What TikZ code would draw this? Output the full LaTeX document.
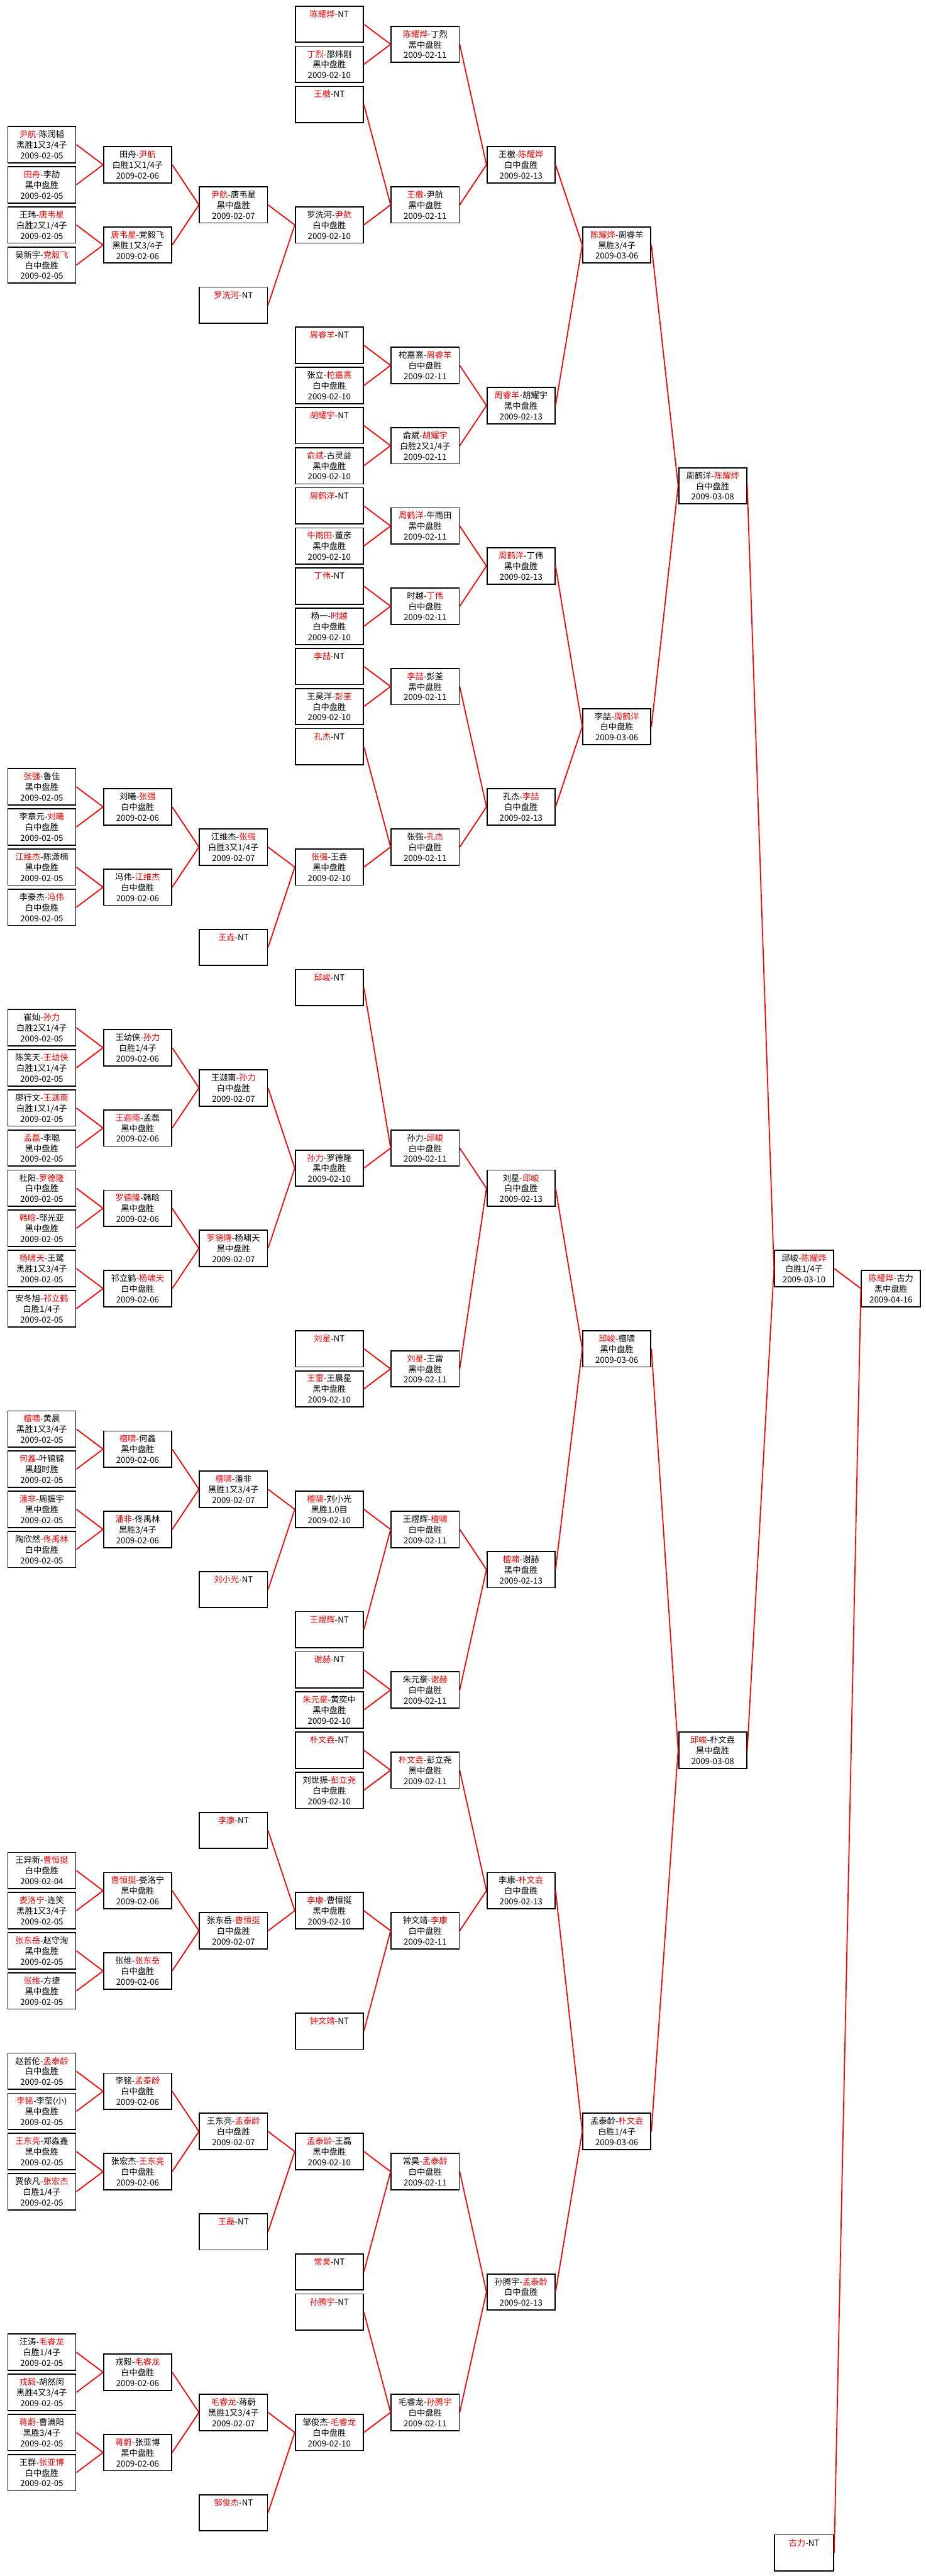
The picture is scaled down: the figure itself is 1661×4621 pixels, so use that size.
\documentclass[tikz,border=0pt]{standalone}
\usepackage{fontspec}
\newfontfamily\cjk{Noto Sans CJK SC}
\definecolor{winred}{RGB}{235,0,0}
\newcommand{\wn}[1]{\textcolor{winred}{#1}}
\begin{document}
\begin{tikzpicture}[x=1pt,y=-72pt,
  game/.style={draw,line width=2pt,anchor=north west,minimum width=122pt,minimum height=65pt,
    inner sep=0pt,align=center,font=\cjk\fontsize{15}{19}\selectfont},
  final/.style={game,minimum width=106pt},
  wire/.style={red,line width=2pt}]
\useasboundingbox (0pt,10pt) rectangle (1661pt,-4611pt);

% round 1
\node[game] (a3) at (13,3) {\wn{尹航}-陈润韬\\黑胜1又3/4子\\2009-02-05};
\node[game] (a4) at (13,4) {\wn{田舟}-李劼\\黑中盘胜\\2009-02-05};
\node[game] (a5) at (13,5) {王玮-\wn{唐韦星}\\白胜2又1/4子\\2009-02-05};
\node[game] (a6) at (13,6) {吴新宇-\wn{党毅飞}\\白中盘胜\\2009-02-05};
\node[game] (a19) at (13,19) {\wn{张强}-鲁佳\\黑中盘胜\\2009-02-05};
\node[game] (a20) at (13,20) {李章元-\wn{刘曦}\\白中盘胜\\2009-02-05};
\node[game] (a21) at (13,21) {\wn{江维杰}-陈潇楠\\黑中盘胜\\2009-02-05};
\node[game] (a22) at (13,22) {李豪杰-\wn{冯伟}\\白中盘胜\\2009-02-05};
\node[game] (a25) at (13,25) {崔灿-\wn{孙力}\\白胜2又1/4子\\2009-02-05};
\node[game] (a26) at (13,26) {陈笑天-\wn{王幼侠}\\白胜1又1/4子\\2009-02-05};
\node[game] (a27) at (13,27) {廖行文-\wn{王迦南}\\白胜1又1/4子\\2009-02-05};
\node[game] (a28) at (13,28) {\wn{孟磊}-李聪\\黑中盘胜\\2009-02-05};
\node[game] (a29) at (13,29) {杜阳-\wn{罗德隆}\\白中盘胜\\2009-02-05};
\node[game] (a30) at (13,30) {\wn{韩晗}-邬光亚\\黑中盘胜\\2009-02-05};
\node[game] (a31) at (13,31) {\wn{杨啸天}-王鹭\\黑胜1又3/4子\\2009-02-05};
\node[game] (a32) at (13,32) {安冬旭-\wn{祁立鹤}\\白胜1/4子\\2009-02-05};
\node[game] (a35) at (13,35) {\wn{檀啸}-黄晨\\黑胜1又3/4子\\2009-02-05};
\node[game] (a36) at (13,36) {\wn{何鑫}-叶锦锦\\黑超时胜\\2009-02-05};
\node[game] (a37) at (13,37) {\wn{潘非}-周振宇\\黑中盘胜\\2009-02-05};
\node[game] (a38) at (13,38) {陶欣然-\wn{佟禹林}\\白中盘胜\\2009-02-05};
\node[game] (a46) at (13,46) {王异新-\wn{曹恒挺}\\白中盘胜\\2009-02-04};
\node[game] (a47) at (13,47) {\wn{娄洛宁}-连笑\\黑胜1又3/4子\\2009-02-05};
\node[game] (a48) at (13,48) {\wn{张东岳}-赵守洵\\黑中盘胜\\2009-02-05};
\node[game] (a49) at (13,49) {\wn{张维}-方捷\\黑中盘胜\\2009-02-05};
\node[game] (a51) at (13,51) {赵哲伦-\wn{孟泰龄}\\白中盘胜\\2009-02-05};
\node[game] (a52) at (13,52) {\wn{李铭}-李莹(小)\\黑中盘胜\\2009-02-05};
\node[game] (a53) at (13,53) {\wn{王东亮}-郑淼鑫\\黑中盘胜\\2009-02-05};
\node[game] (a54) at (13,54) {贾依凡-\wn{张宏杰}\\白胜1/4子\\2009-02-05};
\node[game] (a58) at (13,58) {汪涛-\wn{毛睿龙}\\白胜1/4子\\2009-02-05};
\node[game] (a59) at (13,59) {\wn{戎毅}-胡然闵\\黑胜4又3/4子\\2009-02-05};
\node[game] (a60) at (13,60) {\wn{蒋蔚}-曹满阳\\黑胜3/4子\\2009-02-05};
\node[game] (a61) at (13,61) {王群-\wn{张亚博}\\白中盘胜\\2009-02-05};

% round 2
\node[game] (b3h) at (185,3.5) {田舟-\wn{尹航}\\白胜1又1/4子\\2009-02-06};
\node[game] (b5h) at (185,5.5) {\wn{唐韦星}-党毅飞\\黑胜1又3/4子\\2009-02-06};
\node[game] (b19h) at (185,19.5) {刘曦-\wn{张强}\\白中盘胜\\2009-02-06};
\node[game] (b21h) at (185,21.5) {冯伟-\wn{江维杰}\\白中盘胜\\2009-02-06};
\node[game] (b25h) at (185,25.5) {王幼侠-\wn{孙力}\\白胜1/4子\\2009-02-06};
\node[game] (b27h) at (185,27.5) {\wn{王迦南}-孟磊\\黑中盘胜\\2009-02-06};
\node[game] (b29h) at (185,29.5) {\wn{罗德隆}-韩晗\\黑中盘胜\\2009-02-06};
\node[game] (b31h) at (185,31.5) {祁立鹤-\wn{杨啸天}\\白中盘胜\\2009-02-06};
\node[game] (b35h) at (185,35.5) {\wn{檀啸}-何鑫\\黑中盘胜\\2009-02-06};
\node[game] (b37h) at (185,37.5) {\wn{潘非}-佟禹林\\黑胜3/4子\\2009-02-06};
\node[game] (b46h) at (185,46.5) {\wn{曹恒挺}-娄洛宁\\黑中盘胜\\2009-02-06};
\node[game] (b48h) at (185,48.5) {张维-\wn{张东岳}\\白中盘胜\\2009-02-06};
\node[game] (b51h) at (185,51.5) {李铭-\wn{孟泰龄}\\白中盘胜\\2009-02-06};
\node[game] (b53h) at (185,53.5) {张宏杰-\wn{王东亮}\\白中盘胜\\2009-02-06};
\node[game] (b58h) at (185,58.5) {戎毅-\wn{毛睿龙}\\白中盘胜\\2009-02-06};
\node[game] (b60h) at (185,60.5) {\wn{蒋蔚}-张亚博\\黑中盘胜\\2009-02-06};

% round 3
\node[game] (c4h) at (357,4.5) {\wn{尹航}-唐韦星\\黑中盘胜\\2009-02-07};
\node[game] (c7) at (357,7) {\wn{罗洗河}-NT\\~\\~};
\node[game] (c20h) at (357,20.5) {江维杰-\wn{张强}\\白胜3又1/4子\\2009-02-07};
\node[game] (c23) at (357,23) {\wn{王垚}-NT\\~\\~};
\node[game] (c26h) at (357,26.5) {王迦南-\wn{孙力}\\白中盘胜\\2009-02-07};
\node[game] (c30h) at (357,30.5) {\wn{罗德隆}-杨啸天\\黑中盘胜\\2009-02-07};
\node[game] (c36h) at (357,36.5) {\wn{檀啸}-潘非\\黑胜1又3/4子\\2009-02-07};
\node[game] (c39) at (357,39) {\wn{刘小光}-NT\\~\\~};
\node[game] (c45) at (357,45) {\wn{李康}-NT\\~\\~};
\node[game] (c47h) at (357,47.5) {张东岳-\wn{曹恒挺}\\白中盘胜\\2009-02-07};
\node[game] (c52h) at (357,52.5) {王东亮-\wn{孟泰龄}\\白中盘胜\\2009-02-07};
\node[game] (c55) at (357,55) {\wn{王磊}-NT\\~\\~};
\node[game] (c59h) at (357,59.5) {\wn{毛睿龙}-蒋蔚\\黑胜1又3/4子\\2009-02-07};
\node[game] (c62) at (357,62) {\wn{邹俊杰}-NT\\~\\~};

% round 4
\node[game] (d0) at (529,0) {\wn{陈耀烨}-NT\\~\\~};
\node[game] (d1) at (529,1) {\wn{丁烈}-邵炜刚\\黑中盘胜\\2009-02-10};
\node[game] (d2) at (529,2) {\wn{王檄}-NT\\~\\~};
\node[game] (d5) at (529,5) {罗洗河-\wn{尹航}\\白中盘胜\\2009-02-10};
\node[game] (d8) at (529,8) {\wn{周睿羊}-NT\\~\\~};
\node[game] (d9) at (529,9) {张立-\wn{柁嘉熹}\\白中盘胜\\2009-02-10};
\node[game] (d10) at (529,10) {\wn{胡耀宇}-NT\\~\\~};
\node[game] (d11) at (529,11) {\wn{俞斌}-古灵益\\黑中盘胜\\2009-02-10};
\node[game] (d12) at (529,12) {\wn{周鹤洋}-NT\\~\\~};
\node[game] (d13) at (529,13) {\wn{牛雨田}-董彦\\黑中盘胜\\2009-02-10};
\node[game] (d14) at (529,14) {\wn{丁伟}-NT\\~\\~};
\node[game] (d15) at (529,15) {杨一-\wn{时越}\\白中盘胜\\2009-02-10};
\node[game] (d16) at (529,16) {\wn{李喆}-NT\\~\\~};
\node[game] (d17) at (529,17) {王昊洋-\wn{彭荃}\\白中盘胜\\2009-02-10};
\node[game] (d18) at (529,18) {\wn{孔杰}-NT\\~\\~};
\node[game] (d21) at (529,21) {\wn{张强}-王垚\\黑中盘胜\\2009-02-10};
\node[game] (d24) at (529,24) {\wn{邱峻}-NT\\~\\~};
\node[game] (d28h) at (529,28.5) {\wn{孙力}-罗德隆\\黑中盘胜\\2009-02-10};
\node[game] (d33) at (529,33) {\wn{刘星}-NT\\~\\~};
\node[game] (d34) at (529,34) {\wn{王雷}-王晨星\\黑中盘胜\\2009-02-10};
\node[game] (d37) at (529,37) {\wn{檀啸}-刘小光\\黑胜1.0目\\2009-02-10};
\node[game] (d40) at (529,40) {\wn{王煜辉}-NT\\~\\~};
\node[game] (d41) at (529,41) {\wn{谢赫}-NT\\~\\~};
\node[game] (d42) at (529,42) {\wn{朱元豪}-黄奕中\\黑中盘胜\\2009-02-10};
\node[game] (d43) at (529,43) {\wn{朴文垚}-NT\\~\\~};
\node[game] (d44) at (529,44) {刘世振-\wn{彭立尧}\\白中盘胜\\2009-02-10};
\node[game] (d47) at (529,47) {\wn{李康}-曹恒挺\\黑中盘胜\\2009-02-10};
\node[game] (d50) at (529,50) {\wn{钟文靖}-NT\\~\\~};
\node[game] (d53) at (529,53) {\wn{孟泰龄}-王磊\\黑中盘胜\\2009-02-10};
\node[game] (d56) at (529,56) {\wn{常昊}-NT\\~\\~};
\node[game] (d57) at (529,57) {\wn{孙腾宇}-NT\\~\\~};
\node[game] (d60) at (529,60) {邹俊杰-\wn{毛睿龙}\\白中盘胜\\2009-02-10};

% round 5
\node[game] (e0h) at (701,0.5) {\wn{陈耀烨}-丁烈\\黑中盘胜\\2009-02-11};
\node[game] (e4h) at (701,4.5) {\wn{王檄}-尹航\\黑中盘胜\\2009-02-11};
\node[game] (e8h) at (701,8.5) {柁嘉熹-\wn{周睿羊}\\白中盘胜\\2009-02-11};
\node[game] (e10h) at (701,10.5) {俞斌-\wn{胡耀宇}\\白胜2又1/4子\\2009-02-11};
\node[game] (e12h) at (701,12.5) {\wn{周鹤洋}-牛雨田\\黑中盘胜\\2009-02-11};
\node[game] (e14h) at (701,14.5) {时越-\wn{丁伟}\\白中盘胜\\2009-02-11};
\node[game] (e16h) at (701,16.5) {\wn{李喆}-彭荃\\黑中盘胜\\2009-02-11};
\node[game] (e20h) at (701,20.5) {张强-\wn{孔杰}\\白中盘胜\\2009-02-11};
\node[game] (e28) at (701,28) {孙力-\wn{邱峻}\\白中盘胜\\2009-02-11};
\node[game] (e33h) at (701,33.5) {\wn{刘星}-王雷\\黑中盘胜\\2009-02-11};
\node[game] (e37h) at (701,37.5) {王煜辉-\wn{檀啸}\\白中盘胜\\2009-02-11};
\node[game] (e41h) at (701,41.5) {朱元豪-\wn{谢赫}\\白中盘胜\\2009-02-11};
\node[game] (e43h) at (701,43.5) {\wn{朴文垚}-彭立尧\\黑中盘胜\\2009-02-11};
\node[game] (e47h) at (701,47.5) {钟文靖-\wn{李康}\\白中盘胜\\2009-02-11};
\node[game] (e53h) at (701,53.5) {常昊-\wn{孟泰龄}\\白中盘胜\\2009-02-11};
\node[game] (e59h) at (701,59.5) {毛睿龙-\wn{孙腾宇}\\白中盘胜\\2009-02-11};

% round 6
\node[game] (f3h) at (873,3.5) {王檄-\wn{陈耀烨}\\白中盘胜\\2009-02-13};
\node[game] (f9h) at (873,9.5) {\wn{周睿羊}-胡耀宇\\黑中盘胜\\2009-02-13};
\node[game] (f13h) at (873,13.5) {\wn{周鹤洋}-丁伟\\黑中盘胜\\2009-02-13};
\node[game] (f19h) at (873,19.5) {孔杰-\wn{李喆}\\白中盘胜\\2009-02-13};
\node[game] (f29) at (873,29) {刘星-\wn{邱峻}\\白中盘胜\\2009-02-13};
\node[game] (f38h) at (873,38.5) {\wn{檀啸}-谢赫\\黑中盘胜\\2009-02-13};
\node[game] (f46h) at (873,46.5) {李康-\wn{朴文垚}\\白中盘胜\\2009-02-13};
\node[game] (f56h) at (873,56.5) {孙腾宇-\wn{孟泰龄}\\白中盘胜\\2009-02-13};

% rounds 7 and 8
\node[game] (g5h) at (1045,5.5) {\wn{陈耀烨}-周睿羊\\黑胜3/4子\\2009-03-06};
\node[game] (g17h) at (1045,17.5) {李喆-\wn{周鹤洋}\\白中盘胜\\2009-03-06};
\node[game] (g33) at (1045,33) {\wn{邱峻}-檀啸\\黑中盘胜\\2009-03-06};
\node[game] (g52h) at (1045,52.5) {孟泰龄-\wn{朴文垚}\\白胜1/4子\\2009-03-06};
\node[game] (h11h) at (1217,11.5) {周鹤洋-\wn{陈耀烨}\\白中盘胜\\2009-03-08};
\node[game] (h43) at (1217,43) {\wn{邱峻}-朴文垚\\黑中盘胜\\2009-03-08};

% final stages
\node[final] (i31) at (1389,31) {邱峻-\wn{陈耀烨}\\白胜1/4子\\2009-03-10};
\node[final] (i63) at (1389,63) {\wn{古力}-NT\\~\\~};
\node[final] (j31h) at (1545,31.5) {\wn{陈耀烨}-古力\\黑中盘胜\\2009-04-16};

\foreach \u/\v in {a3/b3h,a4/b3h,a5/b5h,a6/b5h,a19/b19h,a20/b19h,a21/b21h,a22/b21h,
  a25/b25h,a26/b25h,a27/b27h,a28/b27h,a29/b29h,a30/b29h,a31/b31h,a32/b31h,
  a35/b35h,a36/b35h,a37/b37h,a38/b37h,a46/b46h,a47/b46h,a48/b48h,a49/b48h,
  a51/b51h,a52/b51h,a53/b53h,a54/b53h,a58/b58h,a59/b58h,a60/b60h,a61/b60h,
  b3h/c4h,b5h/c4h,b19h/c20h,b21h/c20h,b25h/c26h,b27h/c26h,b29h/c30h,b31h/c30h,
  b35h/c36h,b37h/c36h,b46h/c47h,b48h/c47h,b51h/c52h,b53h/c52h,b58h/c59h,b60h/c59h,
  c4h/d5,c7/d5,c20h/d21,c23/d21,c26h/d28h,c30h/d28h,c36h/d37,c39/d37,
  c45/d47,c47h/d47,c52h/d53,c55/d53,c59h/d60,c62/d60,
  d0/e0h,d1/e0h,d2/e4h,d5/e4h,d8/e8h,d9/e8h,d10/e10h,d11/e10h,
  d12/e12h,d13/e12h,d14/e14h,d15/e14h,d16/e16h,d17/e16h,d18/e20h,d21/e20h,
  d24/e28,d28h/e28,d33/e33h,d34/e33h,d37/e37h,d40/e37h,d41/e41h,d42/e41h,
  d43/e43h,d44/e43h,d47/e47h,d50/e47h,d53/e53h,d56/e53h,d57/e59h,d60/e59h,
  e0h/f3h,e4h/f3h,e8h/f9h,e10h/f9h,e12h/f13h,e14h/f13h,e16h/f19h,e20h/f19h,
  e28/f29,e33h/f29,e37h/f38h,e41h/f38h,e43h/f46h,e47h/f46h,e53h/f56h,e59h/f56h,
  f3h/g5h,f9h/g5h,f13h/g17h,f19h/g17h,f29/g33,f38h/g33,f46h/g52h,f56h/g52h,
  g5h/h11h,g17h/h11h,g33/h43,g52h/h43,h11h/i31,h43/i31,i31/j31h,i63/j31h}
  \draw[wire] (\u.east) -- (\v.west);
\end{tikzpicture}
\end{document}
